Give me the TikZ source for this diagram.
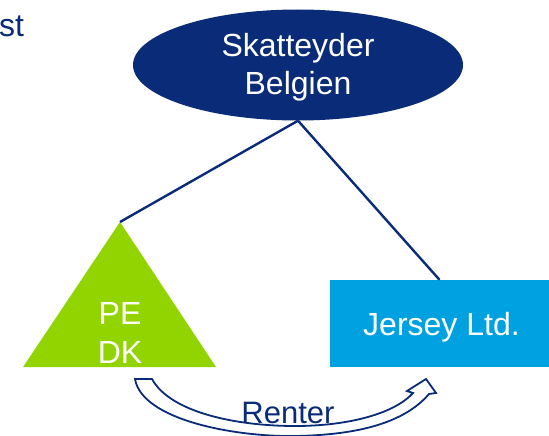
\documentclass[tikz,border=0pt]{standalone}
\usepackage{fontspec}
\setmainfont{Liberation Sans}
\usetikzlibrary{shapes.geometric}
\definecolor{navy}{HTML}{0A2C78}
\definecolor{leaf}{HTML}{92D400}
\definecolor{sky}{HTML}{00A1E0}
\tikzset{
  big/.style={font=\fontsize{32}{38}\selectfont},
  wtext/.style={big, text=white, inner sep=0pt, anchor=base},
  ntext/.style={big, text=navy, inner sep=0pt, anchor=base},
  link/.style={draw=navy, line width=2.4pt},
}
\begin{document}
\begin{tikzpicture}[x=1pt,y=-1pt]
\useasboundingbox (0,0) rectangle (549,436);
% partial title
\node[ntext, anchor=base west] (st) at (-1,37) {st};
% ellipse
\node[ellipse, fill=navy, minimum width=330pt, minimum height=111pt, inner sep=0pt] (sk) at (298,65) {};
\node[wtext] (sk1) at (298,57) {Skatteyder};
\node[wtext] (sk2) at (298,95) {Belgien};
% triangle
\coordinate (apex) at (120,222);
\coordinate (bl) at (23,367);
\coordinate (br) at (216,367);
\fill[leaf] (apex) -- (br) -- (bl) -- cycle;
\node[wtext] (pe1) at (120,324) {PE};
\node[wtext] (pe2) at (120,363) {DK};
% rectangle
\node[fill=sky, minimum width=219pt, minimum height=87pt, inner sep=0pt] (jersey) at (439.5,323.5) {};
\node[wtext] (jt) at (441.5,335) {Jersey Ltd.};
% connectors
\draw[link] (sk.south) -- (apex);
\draw[link] (sk.south) -- (jersey.north);
% curved hollow arrow
\coordinate (t1) at (135,379);
\coordinate (t2) at (152,379);
\coordinate (hb1) at (429,394);
\coordinate (hr) at (436,393);
\coordinate (tip) at (426,379);
\coordinate (hl) at (407,391);
\coordinate (hb2) at (413,393);
\draw[navy, line width=1.8pt, fill=white, line join=miter]
  (t1) .. controls (142,420) and (235,437) .. (295,436)
       .. controls (360,435) and (405,422) .. (hb1)
  -- (hr) -- (tip) -- (hl) -- (hb2)
  .. controls (395,413) and (350,426) .. (295,426)
  .. controls (235,426) and (170,412) .. (t2) -- cycle;
\node[ntext, font=\fontsize{31}{38}\selectfont] (renter) at (288,423) {Renter};
\end{tikzpicture}
\end{document}
